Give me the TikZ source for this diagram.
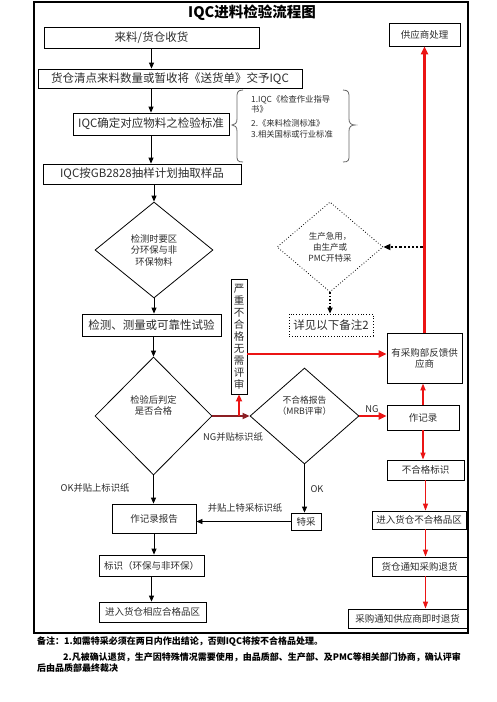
\documentclass[tikz,border=0pt]{standalone}
\usepackage{fontspec}
\setmainfont{Noto Sans CJK SC}
\usetikzlibrary{shapes.geometric,arrows.meta,calc}
\definecolor{myred}{RGB}{235,20,20}
\definecolor{maroon}{RGB}{140,30,35}
\definecolor{txt}{RGB}{45,45,45}
\begin{document}
\begin{tikzpicture}[x=1pt,y=-1pt,
  box/.style={draw,thick,rectangle,inner sep=0pt,text=txt,font=\fontsize{9.5}{11}\selectfont},
  bigbox/.style={box,font=\fontsize{11.5}{13}\selectfont},
  dia/.style={draw,thick,diamond,inner sep=0pt,text=txt,align=center,font=\fontsize{9.3}{11.5}\selectfont},
  arr/.style={thick,-{Triangle[length=6pt,width=5pt]}},
  rarr/.style={myred,line width=2.2pt,-{Triangle[length=8pt,width=7pt]}},
  rarrthin/.style={myred,line width=1.1pt,-{Triangle[length=7pt,width=5pt]}},
  lbl/.style={text=txt,font=\fontsize{9.3}{11}\selectfont,inner sep=0pt},
  lst/.style={text=txt,font=\fontsize{8.3}{10}\selectfont,inner sep=0pt,anchor=west},
  note/.style={font=\bfseries\fontsize{9}{11}\selectfont,inner sep=0pt,anchor=west}]
\useasboundingbox (0,0) rectangle (496,702);
\fill[white] (0,0) rectangle (496,702);
\draw[line width=1.8pt] (34,2) rectangle (468,633);
\node[font=\bfseries\fontsize{14.5}{16}\selectfont,inner sep=0pt] (title) at (252,13) {IQC进料检验流程图};

% left column
\node[bigbox,minimum width=215pt,minimum height=21pt] (b1) at (151.5,37.5) {来料/货仓收货};
\node[box,minimum width=71pt,minimum height=23pt] (sup) at (424.5,34.5) {供应商处理};
\node[bigbox,minimum width=264pt,minimum height=19pt] (b2) at (170,78.5) {货仓清点来料数量或暂收将《送货单》交予IQC};
\node[bigbox,minimum width=156pt,minimum height=22pt] (b3) at (151,124) {IQC确定对应物料之检验标准};
\node[bigbox,minimum width=198pt,minimum height=20pt] (b4) at (142,174) {IQC按GB2828抽样计划抽取样品};
\node[dia,minimum width=118pt,minimum height=96pt] (d1) at (154,250) {检测时要区\\分环保与非\\环保物料};
\node[bigbox,minimum width=139pt,minimum height=22pt] (b5) at (151.5,325) {检测、测量或可靠性试验};
\node[dia,minimum width=117pt,minimum height=118pt] (d3) at (153.5,416) {检验后判定\\是否合格\\[10pt]};
\node[box,minimum width=84pt,minimum height=29pt] (rep) at (154,518.5) {作记录报告};
\node[box,minimum width=105pt,minimum height=21pt] (l1) at (151.5,565.5) {标识（环保与非环保）};
\node[box,minimum width=107pt,minimum height=20pt] (l2) at (152.5,612) {进入货仓相应合格品区};

% braces and list
\draw[gray!80!black,thick] (243,90) .. controls (237,90) and (237,93) .. (237,98) -- (237,119) .. controls (237,123) and (235,125) .. (232,125) .. controls (235,125) and (237,127) .. (237,131) -- (237,155) .. controls (237,160) and (237,162) .. (243,162);
\draw[gray!80!black,thick] (343,90) .. controls (349,90) and (349,93) .. (349,98) -- (349,119) .. controls (349,123) and (351,125) .. (355,125) .. controls (351,125) and (349,127) .. (349,131) -- (349,155) .. controls (349,160) and (349,162) .. (343,162);
\node[lst] (s1) at (251,100) {1.IQC《检查作业指导};
\node[lst] (s2) at (251,109.5) {书》};
\node[lst] (s3) at (251,123) {2.《来料检测标准》};
\node[lst] (s4) at (251,134) {3.相关国标或行业标准};

% middle
\node[dia,dotted,minimum width=106pt,minimum height=90pt,font=\fontsize{8.5}{11}\selectfont] (d2) at (330,247) {生产急用，\\由生产或\\PMC开特采};
\node[bigbox,dotted,minimum width=84pt,minimum height=22pt] (n2) at (331,325) {详见以下备注2};
\node[box,minimum width=16pt,minimum height=115pt,align=center,font=\fontsize{10.5}{12}\selectfont] (vb) at (239,336.5) {严\\重\\不\\合\\格\\无\\需\\评\\审};
\node[dia,minimum width=109pt,minimum height=96pt,font=\fontsize{8.8}{11}\selectfont] (d4) at (304.5,416) {不合格报告\\（MRB评审）\\[10pt]};
\node[box,minimum width=30pt,minimum height=17pt] (tc) at (306,521.5) {特采};

% right column
\node[box,minimum width=75pt,minimum height=50pt,align=center] (fb) at (424.5,358) {有采购部反馈供\\应商};
\node[box,minimum width=72pt,minimum height=25pt] (rec) at (423,417.5) {作记录};
\node[box,minimum width=77pt,minimum height=20pt] (nb) at (425.5,470) {不合格标识};
\node[box,minimum width=94pt,minimum height=18pt] (r1) at (419,520) {进入货仓不合格品区};
\node[box,minimum width=95pt,minimum height=19pt] (r2) at (419.5,566.5) {货仓通知采购退货};
\node[box,minimum width=119pt,minimum height=19pt] (r3) at (407.5,618.5) {采购通知供应商即时退货};

% black arrows
\draw[arr] (b1.south) -- (b1.south |- b2.north);
\draw[arr] (b3.north |- b2.south) -- (b3.north);
\draw[arr] (b3.south) -- (b3.south |- b4.north);
\draw[arr] (d1.north |- b4.south) -- (d1.north);
\draw[arr] (d1.south) -- (d1.south |- b5.north);
\draw[arr] (d3.north |- b5.south) -- (d3.north);
\draw[arr] (d3.south) -- (d3.south |- rep.north);
\draw[arr] (rep.south) -- (rep.south |- l1.north);
\draw[arr] (l1.south) -- (l1.south |- l2.north);
\draw[arr] (d4.south) -- (d4.south |- tc.north);
\draw[arr] (tc.west) -- (tc.west -| rep.east);

% red arrows
\coordinate (top) at (424.5,333);
\draw[rarr] (fb.north) -- (sup.south);
\draw[line width=2.2pt,dotted,-{Triangle[length=7pt,width=6pt]}] (sup.south |- d2.east) ++(-2,0) -- (d2.east);
\draw[line width=1.5pt,dotted,-{Triangle[length=6pt,width=5pt]}] (d2.south) -- (d2.south |- n2.north);
\coordinate (rv) at (247,354);
\draw[rarr] (rv) -- (rv -| fb.west);
\draw[maroon,line width=2pt,-{Triangle[length=7pt,width=6pt]}] (d3.east) -- (d4.west);
\draw[myred,line width=2pt,-{Triangle[length=7pt,width=6pt]}] (vb.south |- d3.east) -- (vb.south);
\draw[rarr] (d4.east) -- (d4.east -| rec.west);
\draw[rarrthin,line width=1.6pt] (rec.north) -- (rec.north |- fb.south);
\draw[rarrthin] (rec.south) -- (rec.south |- nb.north);
\draw[rarrthin] (nb.south) -- (nb.south |- r1.north);
\draw[rarrthin] (nb.south |- r1.south) -- (nb.south |- r2.north);
\draw[rarrthin] (nb.south |- r2.south) -- (nb.south |- r3.north);

% labels
\node[lbl] (lng) at (233,437) {NG并贴标识纸};
\node[lbl] (lok) at (95,488) {OK并贴上标识纸};
\node[lbl] (lng2) at (372,409) {NG};
\node[lbl] (lok2) at (317,489) {OK};
\node[lbl] (ltc) at (245,508) {并贴上特采标识纸};

% notes
\node[note] (m1) at (37,642) {备注：1.如需特采必须在两日内作出结论，否则IQC将按不合格品处理。};
\node[note] (m2) at (63,657) {2.凡被确认退货，生产因特殊情况需要使用，由品质部、生产部、及PMC等相关部门协商，确认评审};
\node[note] (m3) at (37,668.5) {后由品质部最终裁决};
\end{tikzpicture}
\end{document}
